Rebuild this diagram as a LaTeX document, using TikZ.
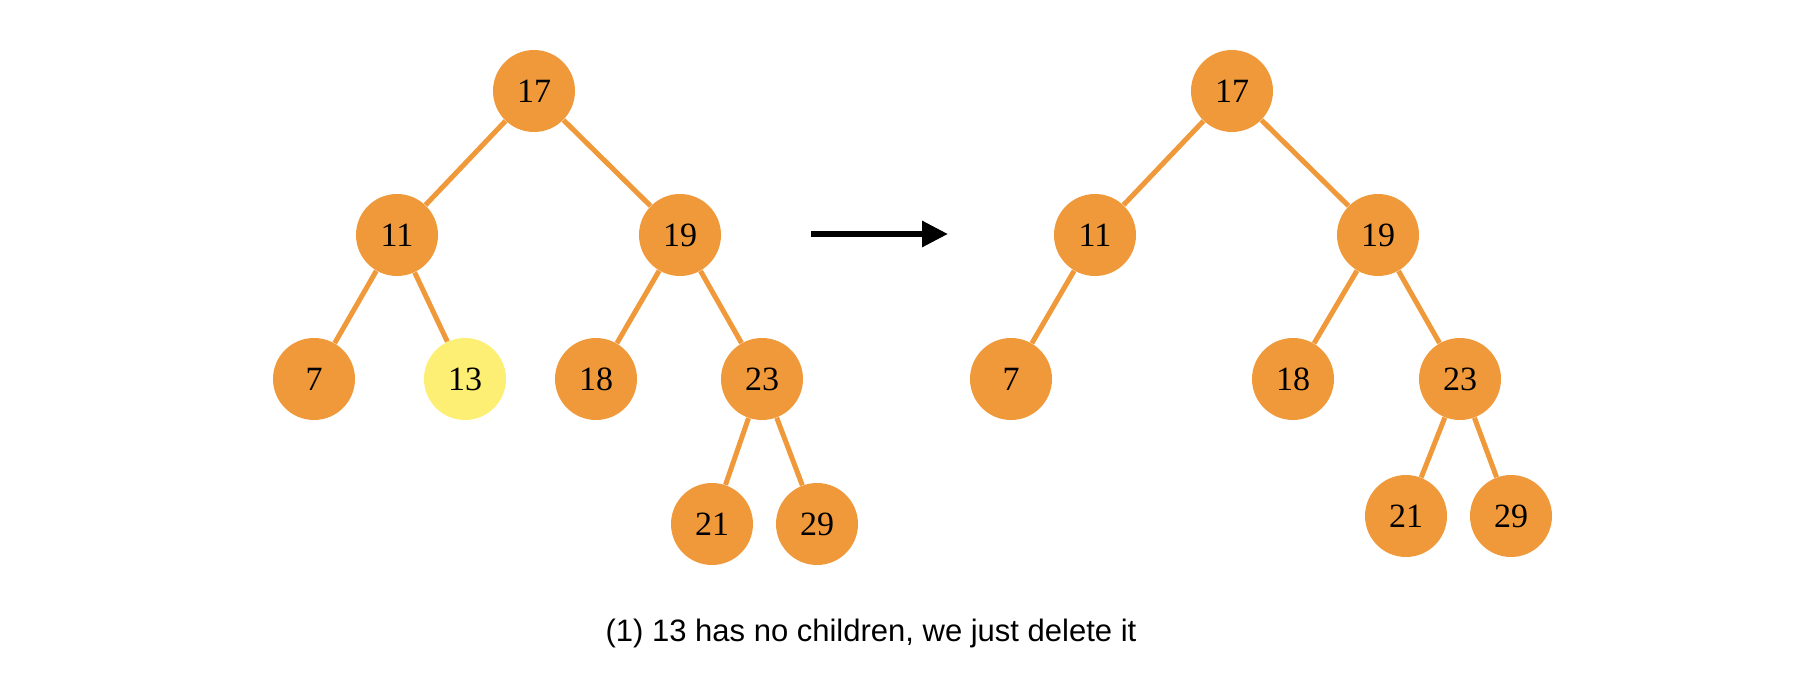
\documentclass[tikz,border=0pt]{standalone}
\usepackage{fontspec}
\setmainfont{Liberation Serif}
\newfontfamily\capfont{Liberation Sans}
\usetikzlibrary{arrows.meta}
\definecolor{nodeorange}{HTML}{F0993A}
\definecolor{nodeyellow}{HTML}{FCEF74}
\begin{document}
\begin{tikzpicture}[x=0.5pt,y=-0.5pt,
  treenode/.style={circle,fill=nodeorange,draw=none,minimum size=41pt,inner sep=0pt,font=\fontsize{17pt}{20pt}\selectfont},
  delnode/.style={treenode,fill=nodeyellow},
  edge/.style={draw=nodeorange,line width=2.5pt},
  flow/.style={draw=black,line width=3pt,-{Triangle[length=13pt,width=12.5pt]}}]
\useasboundingbox (0,0) rectangle (1800,690);
% left tree
\node[treenode] (a17) at (534,91) {17};
\node[treenode] (a11) at (397,235) {11};
\node[treenode] (a19) at (680,235) {19};
\node[treenode] (a7) at (314,379) {7};
\node[delnode] (a13) at (465,379) {13};
\node[treenode] (a18) at (596,379) {18};
\node[treenode] (a23) at (762,379) {23};
\node[treenode] (a21) at (712,524) {21};
\node[treenode] (a29) at (817,524) {29};
\draw[edge] (a17) -- (a11);
\draw[edge] (a17) -- (a19);
\draw[edge] (a11) -- (a7);
\draw[edge] (a11) -- (a13);
\draw[edge] (a19) -- (a18);
\draw[edge] (a19) -- (a23);
\draw[edge] (a23) -- (a21);
\draw[edge] (a23) -- (a29);
% arrow
\coordinate (arS) at (811,234);
\coordinate (arE) at (948,234);
\draw[flow] (arS) -- (arE);
% right tree
\node[treenode] (b17) at (1232,91) {17};
\node[treenode] (b11) at (1095,235) {11};
\node[treenode] (b19) at (1378,235) {19};
\node[treenode] (b7) at (1011,379) {7};
\node[treenode] (b18) at (1293,379) {18};
\node[treenode] (b23) at (1460,379) {23};
\node[treenode] (b21) at (1406,516) {21};
\node[treenode] (b29) at (1511,516) {29};
\draw[edge] (b17) -- (b11);
\draw[edge] (b17) -- (b19);
\draw[edge] (b11) -- (b7);
\draw[edge] (b19) -- (b18);
\draw[edge] (b19) -- (b23);
\draw[edge] (b23) -- (b21);
\draw[edge] (b23) -- (b29);
% caption
\node[anchor=base,font=\capfont\fontsize{15.5pt}{18pt}\selectfont,inner sep=0pt] (cap) at (871,641) {(1) 13 has no children, we just delete it};
\end{tikzpicture}
\end{document}
